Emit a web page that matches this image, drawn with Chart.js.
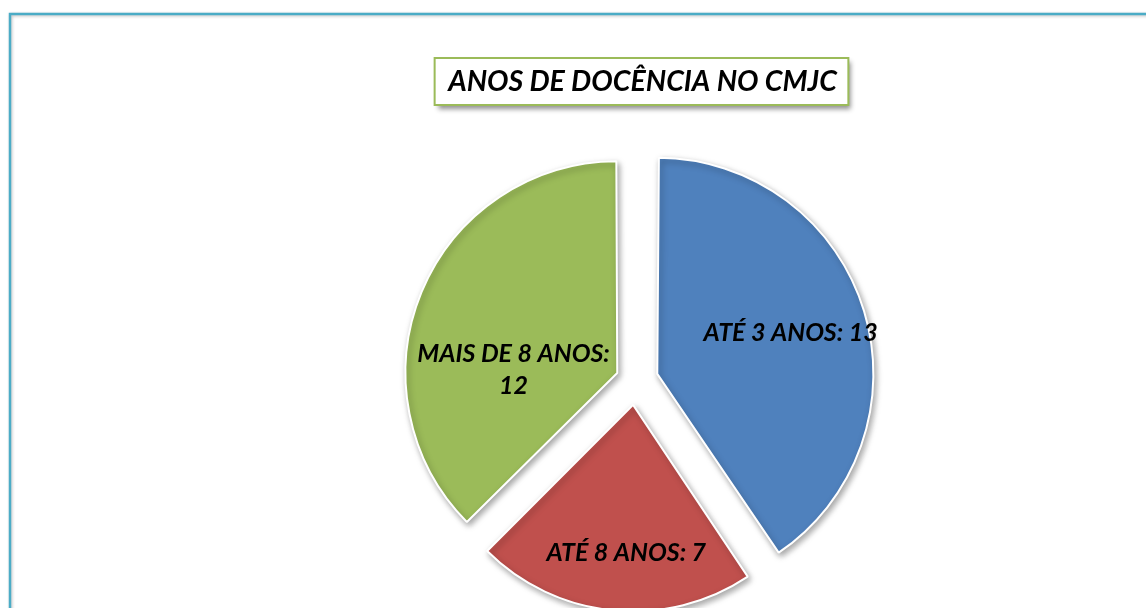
<!DOCTYPE html>
<html>
<head>
<meta charset="utf-8">
<script src="https://cdn.jsdelivr.net/npm/chart.js@4.4.1/dist/chart.umd.min.js"></script>
<style>
  html, body { margin: 0; padding: 0; background: #fff; }
  #wrap { width: 1146px; height: 608px; }
</style>
</head>
<body>
<div id="wrap"><canvas id="chartDocencia" width="1146" height="608"></canvas></div>
<script>
const categorias = ['ATÉ 3 ANOS', 'ATÉ 8 ANOS', 'MAIS DE 8 ANOS'];
const professores = [13, 7, 12];
const tituloGrafico = 'ANOS DE DOCÊNCIA NO CMJC';

// cores padrão do Office
const coresFatias = ['#4f81bd', '#c0504d', '#9bbb59'];
// quanto cada fatia sai do centro (unidade do offset do Chart.js)
const afastamento = [91, 98, 79];
// rótulo: fração do raio e desvio do ângulo (graus)
const posRotulo = [[0.645, 0], [0.72, -3], [0.49, -21]];

const fonte = 'Lato, "Open Sans", sans-serif';
const tamTitulo = 28.5;
const centroTitulo = { x: 642.5, y: 82 };

// deslocamento aplicado pelo ArcElement ao desenhar a fatia
function apiceFatia(arc) {
  const meio = (arc.startAngle + arc.endAngle) / 2;
  const circ = arc.endAngle - arc.startAngle;
  const off = (arc.options.offset || 0) / 4;
  const fix = 1 - Math.sin(Math.min(Math.PI, circ));
  return {
    x: arc.x + Math.cos(meio) * off,
    y: arc.y + Math.sin(meio) * off,
    r: arc.outerRadius + off * fix,
    meio: meio
  };
}

const molduras = {
  id: 'molduras',
  beforeDraw(chart) {
    const ctx = chart.ctx;
    ctx.save();
    // borda externa
    ctx.shadowColor = 'rgba(0,0,0,0.25)';
    ctx.shadowBlur = 3;
    ctx.shadowOffsetX = 1;
    ctx.shadowOffsetY = 1;
    ctx.strokeStyle = '#4bacc6';
    ctx.lineWidth = 2.5;
    ctx.strokeRect(10, 14, chart.width + 40, chart.height + 40);
    ctx.restore();

    // caixa do título + texto
    ctx.save();
    ctx.font = 'italic bold ' + tamTitulo + 'px ' + fonte;
    const w = ctx.measureText(tituloGrafico).width + 25;
    const h = 47;
    const cx = centroTitulo.x - 1;
    const cy = centroTitulo.y - 0.5;
    ctx.shadowColor = 'rgba(0,0,0,0.45)';
    ctx.shadowBlur = 5;
    ctx.shadowOffsetX = 3;
    ctx.shadowOffsetY = 4;
    ctx.fillStyle = '#fff';
    ctx.fillRect(cx - w / 2, cy - h / 2, w, h);
    ctx.shadowColor = 'transparent';
    ctx.strokeStyle = '#9bbb59';
    ctx.lineWidth = 2;
    ctx.strokeRect(cx - w / 2, cy - h / 2, w, h);
    ctx.fillStyle = '#000';
    ctx.textAlign = 'center';
    ctx.textBaseline = 'middle';
    ctx.fillText(tituloGrafico, centroTitulo.x, centroTitulo.y);
    ctx.restore();
  },
  beforeDatasetsDraw(chart) {
    const ctx = chart.ctx;
    ctx.save();
    ctx.shadowColor = 'rgba(0,0,0,0.35)';
    ctx.shadowBlur = 6;
    ctx.shadowOffsetX = 2;
    ctx.shadowOffsetY = 3;
  },
  afterDatasetsDraw(chart) {
    const ctx = chart.ctx;
    ctx.restore();
    ctx.save();
    ctx.font = 'italic bold 25px ' + fonte;
    ctx.fillStyle = '#000';
    ctx.textAlign = 'center';
    ctx.textBaseline = 'middle';
    const meta = chart.getDatasetMeta(0);
    meta.data.forEach((arc, i) => {
      const a = apiceFatia(arc);
      const [f, d] = posRotulo[i];
      const ang = a.meio + d * Math.PI / 180;
      const x = a.x + Math.cos(ang) * a.r * f;
      const y = a.y + Math.sin(ang) * a.r * f;
      const texto = categorias[i] + ': ' + professores[i];
      let linhas = [texto];
      if (ctx.measureText(texto).width > 205) {
        linhas = [categorias[i] + ':', String(professores[i])];
      }
      linhas.forEach((l, k) => {
        ctx.fillText(l, x, y + (k - (linhas.length - 1) / 2) * 32);
      });
    });
    ctx.restore();
  }
};

new Chart(document.getElementById('chartDocencia'), {
  type: 'pie',
  data: {
    labels: categorias,
    datasets: [{
      data: professores,
      backgroundColor: coresFatias,
      borderColor: '#ffffff',
      borderWidth: 2,
      offset: afastamento,
      hoverOffset: 0
    }]
  },
  options: {
    responsive: false,
    animation: false,
    radius: 206,
    layout: { padding: { left: 125, right: 0, top: 153, bottom: 0 } },
    plugins: {
      legend: { display: false },
      tooltip: { enabled: false },
      title: { display: false }
    }
  },
  plugins: [molduras]
});
</script>
</body>
</html>
